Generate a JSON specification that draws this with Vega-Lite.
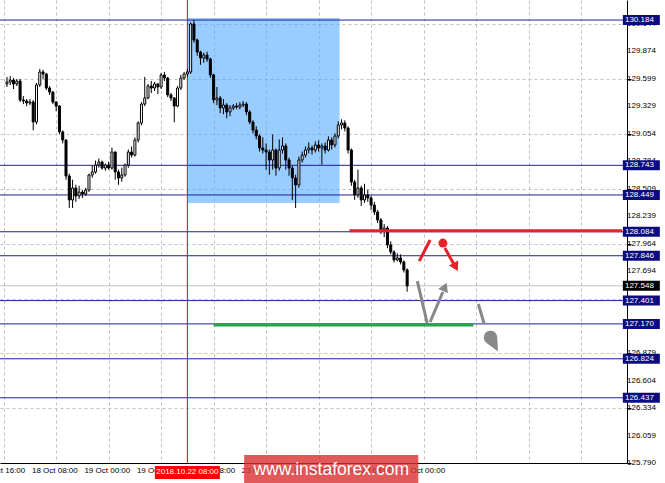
{
"$schema": "https://vega.github.io/schema/vega-lite/v6.json",
"width": 627, "height": 463, "autosize": "none", "padding": {"left": 0, "top": 0, "right": 38, "bottom": 20},
"background": "white",
"config": {"view": {"stroke": null}, "font": "Liberation Sans", "axis": {"labelOverlap": false, "title": null}},
"datasets": {
"zones": [{"t1": 56.2, "t2": 102.4, "p1": 130.204, "p2": 128.369}],
"yticks": [{"v":125.790,"lab":"125.790"},{"v":126.059,"lab":"126.059"},{"v":126.334,"lab":"126.334"},{"v":126.604,"lab":"126.604"},{"v":126.879,"lab":"126.879"},{"v":127.149,"lab":"127.149"},{"v":127.419,"lab":"127.419"},{"v":127.694,"lab":"127.694"},{"v":127.964,"lab":"127.964"},{"v":128.239,"lab":"128.239"},{"v":128.509,"lab":"128.509"},{"v":128.784,"lab":"128.784"},{"v":129.054,"lab":"129.054"},{"v":129.329,"lab":"129.329"},{"v":129.599,"lab":"129.599"},{"v":129.874,"lab":"129.874"},{"v":130.144,"lab":"130.144"}],
"xticks": [{"t":-8,"lab":"17 Oct 16:00"},{"t":8,"lab":"18 Oct 08:00"},{"t":24,"lab":"19 Oct 00:00"},{"t":40,"lab":"19 Oct 16:00"},{"t":56,"lab":"22 Oct 08:00"},{"t":72,"lab":"23 Oct 00:00"},{"t":88,"lab":"23 Oct 16:00"},{"t":104,"lab":"24 Oct 08:00"},{"t":120,"lab":"25 Oct 00:00"}],
"levels": [{"v":130.184,"lab":"130.184"},{"v":128.743,"lab":"128.743"},{"v":128.449,"lab":"128.449"},{"v":128.084,"lab":"128.084"},{"v":127.846,"lab":"127.846"},{"v":127.401,"lab":"127.401"},{"v":127.170,"lab":"127.170"},{"v":126.824,"lab":"126.824"},{"v":126.437,"lab":"126.437"}],
"price": [{"v":127.548,"lab":"127.548"}],
"markers": [{"t":56,"lab":"2018.10.22 08:00"}],
"redline": [{"t1":105.4,"t2":188.5,"p":128.094}],
"greenline": [{"t1":64.0,"t2":143.2,"p":127.160}],
"redsegs": [{"seg":"a","t":126.7,"p":127.794},{"seg":"a","t":130.0,"p":128.002},{"seg":"b","t":134.5,"p":127.923},{"seg":"b","t":137.2,"p":127.764}],
"graysegs": [{"seg":"a","t":126.1,"p":127.595},{"seg":"a","t":129.1,"p":127.179},{"seg":"b","t":130.0,"p":127.189},{"seg":"b","t":133.9,"p":127.486},{"seg":"c","t":144.7,"p":127.367},{"seg":"c","t":146.5,"p":127.169}],
"reddot": [{"t":133.9,"p":127.972}],
"redhead": [{"t":137.8,"p":127.734}],
"grayhead": [{"t":134.5,"p":127.536}],
"graydrop": [{"t":149.1,"p":126.993}],
"watermark": [{"lab":"www.instaforex.com"}],
"candles": [
{"t":1,"o":129.550,"hi":129.620,"lo":129.520,"c":129.569},
{"t":2,"o":129.569,"hi":129.630,"lo":129.540,"c":129.589},
{"t":3,"o":129.589,"hi":129.610,"lo":129.500,"c":129.550},
{"t":4,"o":129.550,"hi":129.600,"lo":129.530,"c":129.579},
{"t":5,"o":129.579,"hi":129.600,"lo":129.370,"c":129.391},
{"t":6,"o":129.391,"hi":129.430,"lo":129.350,"c":129.381},
{"t":7,"o":129.381,"hi":129.400,"lo":129.330,"c":129.361},
{"t":8,"o":129.361,"hi":129.400,"lo":129.340,"c":129.371},
{"t":9,"o":129.371,"hi":129.390,"lo":129.090,"c":129.173},
{"t":10,"o":129.173,"hi":129.560,"lo":129.150,"c":129.540},
{"t":11,"o":129.540,"hi":129.700,"lo":129.520,"c":129.669},
{"t":12,"o":129.669,"hi":129.690,"lo":129.600,"c":129.649},
{"t":13,"o":129.649,"hi":129.660,"lo":129.490,"c":129.510},
{"t":14,"o":129.510,"hi":129.530,"lo":129.440,"c":129.470},
{"t":15,"o":129.470,"hi":129.480,"lo":129.350,"c":129.371},
{"t":16,"o":129.371,"hi":129.380,"lo":129.280,"c":129.331},
{"t":17,"o":129.331,"hi":129.340,"lo":129.050,"c":129.074},
{"t":18,"o":129.074,"hi":129.090,"lo":128.960,"c":128.994},
{"t":19,"o":128.994,"hi":129.000,"lo":128.600,"c":128.637},
{"t":20,"o":128.637,"hi":128.660,"lo":128.320,"c":128.399},
{"t":21,"o":128.399,"hi":128.600,"lo":128.320,"c":128.518},
{"t":22,"o":128.518,"hi":128.550,"lo":128.380,"c":128.439},
{"t":23,"o":128.439,"hi":128.540,"lo":128.410,"c":128.478},
{"t":24,"o":128.478,"hi":128.500,"lo":128.420,"c":128.458},
{"t":25,"o":128.458,"hi":128.520,"lo":128.440,"c":128.498},
{"t":26,"o":128.498,"hi":128.660,"lo":128.480,"c":128.647},
{"t":27,"o":128.647,"hi":128.740,"lo":128.620,"c":128.677},
{"t":28,"o":128.677,"hi":128.790,"lo":128.660,"c":128.746},
{"t":29,"o":128.746,"hi":128.810,"lo":128.720,"c":128.776},
{"t":30,"o":128.776,"hi":128.790,"lo":128.700,"c":128.716},
{"t":31,"o":128.716,"hi":128.760,"lo":128.690,"c":128.746},
{"t":32,"o":128.746,"hi":128.780,"lo":128.700,"c":128.716},
{"t":33,"o":128.716,"hi":128.920,"lo":128.700,"c":128.875},
{"t":34,"o":128.875,"hi":128.880,"lo":128.600,"c":128.677},
{"t":35,"o":128.677,"hi":128.700,"lo":128.550,"c":128.617},
{"t":36,"o":128.617,"hi":128.720,"lo":128.580,"c":128.647},
{"t":37,"o":128.647,"hi":128.760,"lo":128.630,"c":128.746},
{"t":38,"o":128.746,"hi":128.900,"lo":128.720,"c":128.875},
{"t":39,"o":128.875,"hi":128.930,"lo":128.820,"c":128.845},
{"t":40,"o":128.845,"hi":129.020,"lo":128.830,"c":128.994},
{"t":41,"o":128.994,"hi":129.180,"lo":128.970,"c":129.163},
{"t":42,"o":129.163,"hi":129.370,"lo":129.140,"c":129.351},
{"t":43,"o":129.351,"hi":129.620,"lo":129.330,"c":129.411},
{"t":44,"o":129.411,"hi":129.550,"lo":129.400,"c":129.530},
{"t":45,"o":129.530,"hi":129.580,"lo":129.460,"c":129.510},
{"t":46,"o":129.510,"hi":129.570,"lo":129.480,"c":129.550},
{"t":47,"o":129.550,"hi":129.560,"lo":129.450,"c":129.520},
{"t":48,"o":129.520,"hi":129.660,"lo":129.500,"c":129.639},
{"t":49,"o":129.639,"hi":129.670,"lo":129.580,"c":129.609},
{"t":50,"o":129.609,"hi":129.620,"lo":129.420,"c":129.441},
{"t":51,"o":129.441,"hi":129.460,"lo":129.380,"c":129.411},
{"t":52,"o":129.411,"hi":129.420,"lo":129.170,"c":129.331},
{"t":53,"o":129.331,"hi":129.530,"lo":129.320,"c":129.510},
{"t":54,"o":129.510,"hi":129.640,"lo":129.490,"c":129.609},
{"t":55,"o":129.609,"hi":129.670,"lo":129.590,"c":129.649},
{"t":56,"o":129.649,"hi":129.700,"lo":129.620,"c":129.669},
{"t":57,"o":129.669,"hi":130.160,"lo":129.650,"c":130.145},
{"t":58,"o":130.145,"hi":130.184,"lo":129.960,"c":129.986},
{"t":59,"o":129.986,"hi":130.000,"lo":129.830,"c":129.867},
{"t":60,"o":129.867,"hi":129.880,"lo":129.740,"c":129.808},
{"t":61,"o":129.808,"hi":129.860,"lo":129.760,"c":129.837},
{"t":62,"o":129.837,"hi":129.870,"lo":129.770,"c":129.798},
{"t":63,"o":129.798,"hi":129.810,"lo":129.610,"c":129.639},
{"t":64,"o":129.639,"hi":129.650,"lo":129.360,"c":129.391},
{"t":65,"o":129.391,"hi":129.520,"lo":129.340,"c":129.411},
{"t":66,"o":129.411,"hi":129.430,"lo":129.260,"c":129.312},
{"t":67,"o":129.312,"hi":129.400,"lo":129.250,"c":129.341},
{"t":68,"o":129.341,"hi":129.360,"lo":129.210,"c":129.272},
{"t":69,"o":129.272,"hi":129.340,"lo":129.230,"c":129.312},
{"t":70,"o":129.312,"hi":129.350,"lo":129.290,"c":129.331},
{"t":71,"o":129.331,"hi":129.360,"lo":129.300,"c":129.321},
{"t":72,"o":129.321,"hi":129.370,"lo":129.300,"c":129.341},
{"t":73,"o":129.341,"hi":129.380,"lo":129.320,"c":129.351},
{"t":74,"o":129.351,"hi":129.370,"lo":129.240,"c":129.272},
{"t":75,"o":129.272,"hi":129.290,"lo":129.150,"c":129.173},
{"t":76,"o":129.173,"hi":129.190,"lo":129.060,"c":129.093},
{"t":77,"o":129.093,"hi":129.130,"lo":129.000,"c":129.034},
{"t":78,"o":129.034,"hi":129.050,"lo":128.880,"c":128.915},
{"t":79,"o":128.915,"hi":129.020,"lo":128.860,"c":128.895},
{"t":80,"o":128.895,"hi":128.960,"lo":128.700,"c":128.875},
{"t":81,"o":128.875,"hi":128.900,"lo":128.650,"c":128.796},
{"t":82,"o":128.796,"hi":129.050,"lo":128.700,"c":128.895},
{"t":83,"o":128.895,"hi":128.910,"lo":128.640,"c":128.716},
{"t":84,"o":128.716,"hi":129.000,"lo":128.690,"c":128.895},
{"t":85,"o":128.895,"hi":129.020,"lo":128.860,"c":128.935},
{"t":86,"o":128.935,"hi":128.960,"lo":128.700,"c":128.796},
{"t":87,"o":128.796,"hi":128.820,"lo":128.640,"c":128.716},
{"t":88,"o":128.716,"hi":128.740,"lo":128.400,"c":128.617},
{"t":89,"o":128.617,"hi":128.650,"lo":128.320,"c":128.548},
{"t":90,"o":128.548,"hi":128.830,"lo":128.520,"c":128.796},
{"t":91,"o":128.796,"hi":128.880,"lo":128.770,"c":128.845},
{"t":92,"o":128.845,"hi":128.930,"lo":128.820,"c":128.895},
{"t":93,"o":128.895,"hi":128.970,"lo":128.860,"c":128.915},
{"t":94,"o":128.915,"hi":128.940,"lo":128.850,"c":128.895},
{"t":95,"o":128.895,"hi":128.980,"lo":128.870,"c":128.945},
{"t":96,"o":128.945,"hi":128.990,"lo":128.880,"c":128.915},
{"t":97,"o":128.915,"hi":128.960,"lo":128.750,"c":128.935},
{"t":98,"o":128.935,"hi":128.970,"lo":128.860,"c":128.895},
{"t":99,"o":128.895,"hi":129.030,"lo":128.880,"c":128.994},
{"t":100,"o":128.994,"hi":129.020,"lo":128.900,"c":128.945},
{"t":101,"o":128.945,"hi":129.060,"lo":128.920,"c":129.034},
{"t":102,"o":129.034,"hi":129.180,"lo":129.010,"c":129.143},
{"t":103,"o":129.143,"hi":129.200,"lo":129.100,"c":129.163},
{"t":104,"o":129.163,"hi":129.190,"lo":129.080,"c":129.113},
{"t":105,"o":129.113,"hi":129.130,"lo":128.860,"c":128.895},
{"t":106,"o":128.895,"hi":128.910,"lo":128.540,"c":128.577},
{"t":107,"o":128.577,"hi":128.600,"lo":128.400,"c":128.449},
{"t":108,"o":128.449,"hi":128.700,"lo":128.420,"c":128.518},
{"t":109,"o":128.518,"hi":128.540,"lo":128.340,"c":128.399},
{"t":110,"o":128.399,"hi":128.560,"lo":128.370,"c":128.449},
{"t":111,"o":128.449,"hi":128.500,"lo":128.380,"c":128.419},
{"t":112,"o":128.419,"hi":128.440,"lo":128.300,"c":128.349},
{"t":113,"o":128.349,"hi":128.380,"lo":128.250,"c":128.280},
{"t":114,"o":128.280,"hi":128.300,"lo":128.170,"c":128.201},
{"t":115,"o":128.201,"hi":128.220,"lo":128.060,"c":128.101},
{"t":116,"o":128.101,"hi":128.160,"lo":128.030,"c":128.121},
{"t":117,"o":128.121,"hi":128.140,"lo":127.920,"c":127.953},
{"t":118,"o":127.953,"hi":127.990,"lo":127.860,"c":127.883},
{"t":119,"o":127.883,"hi":127.900,"lo":127.780,"c":127.804},
{"t":120,"o":127.804,"hi":127.870,"lo":127.790,"c":127.824},
{"t":121,"o":127.824,"hi":127.860,"lo":127.760,"c":127.784},
{"t":122,"o":127.784,"hi":127.800,"lo":127.680,"c":127.705},
{"t":123,"o":127.705,"hi":127.720,"lo":127.490,"c":127.546}
]
},
"layer": [
{"data": {"name": "zones"},
 "mark": {"type": "rect", "fill": "#55aaff", "opacity": 0.6},
 "encoding": {
  "x": {"field": "t1", "type": "quantitative", "title": null,
        "scale": {"domain": [0.4, 188.5], "nice": false, "zero": false},
        "axis": {"orient": "bottom", "title": null, "labels": false,
                 "values": [0,8,16,24,32,40,48,56,64,72,80,88,96,104,112,120,128,136,144,152,160,168,176,184],
                 "grid": true, "gridColor": "#c0c0c0", "gridDash": [3,3], "gridWidth": 1,
                 "domainColor": "#000000", "tickColor": "#000000", "tickSize": 3,
                 "tickOpacity": {"condition": {"test": "datum.value % 16 == 8", "value": 1}, "value": 0}}},
  "x2": {"field": "t2"},
  "y": {"field": "p1", "type": "quantitative", "title": null,
        "scale": {"domain": [125.79, 130.383], "nice": false, "zero": false},
        "axis": {"orient": "right", "title": null, "labels": false,
                 "values": [125.790,126.059,126.334,126.604,126.879,127.149,127.419,127.694,127.964,128.239,128.509,128.784,129.054,129.329,129.599,129.874,130.144],
                 "grid": true, "gridColor": "#c0c0c0", "gridDash": [3,3], "gridWidth": 1,
                 "domainColor": "#000000", "tickColor": "#000000", "tickSize": 4}},
  "y2": {"field": "p2"}
 }},
{"data": {"name": "yticks"}, "mark": {"type": "text", "align": "left", "baseline": "middle", "dx": 5, "color": "#000000", "font": "Liberation Sans", "fontSize": 8},
 "encoding": {"x": {"datum": 188.5}, "y": {"field": "v", "type": "quantitative", "title": null}, "text": {"field": "lab"}}},
{"data": {"name": "xticks"}, "mark": {"type": "text", "align": "left", "baseline": "top", "dx": 2, "color": "#000000", "font": "Liberation Sans", "fontSize": 8},
 "encoding": {"x": {"field": "t", "type": "quantitative", "title": null}, "y": {"datum": 125.755}, "text": {"field": "lab"}}},
{"data": {"name": "levels"}, "mark": {"type": "rule", "color": "#1f1f99", "strokeWidth": 1},
 "encoding": {"y": {"field": "v", "type": "quantitative", "title": null}}},
{"data": {"name": "price"}, "mark": {"type": "rule", "color": "#c0c0c0", "strokeWidth": 1},
 "encoding": {"y": {"field": "v", "type": "quantitative", "title": null}}},
{"data": {"name": "markers"}, "mark": {"type": "rule", "color": "#ff0000", "strokeWidth": 1},
 "encoding": {"x": {"field": "t", "type": "quantitative", "title": null}}},
{"data": {"name": "candles"}, "mark": {"type": "rule", "color": "#000000", "strokeWidth": 1},
 "encoding": {"x": {"field": "t", "type": "quantitative", "title": null},
              "y": {"field": "lo", "type": "quantitative", "title": null}, "y2": {"field": "hi"}}},
{"data": {"name": "candles"}, "mark": {"type": "bar", "size": 2, "stroke": "#000000", "strokeWidth": 1},
 "encoding": {"x": {"field": "t", "type": "quantitative", "title": null},
              "y": {"field": "o", "type": "quantitative", "title": null}, "y2": {"field": "c"},
              "fill": {"condition": {"test": "datum.c >= datum.o", "value": "#ffffff"}, "value": "#000000"}}},
{"data": {"name": "redline"}, "mark": {"type": "rule", "color": "#e8202a", "strokeWidth": 3},
 "encoding": {"x": {"field": "t1", "type": "quantitative", "title": null}, "x2": {"field": "t2"},
              "y": {"field": "p", "type": "quantitative", "title": null}}},
{"data": {"name": "greenline"}, "mark": {"type": "rule", "color": "#22a845", "strokeWidth": 3},
 "encoding": {"x": {"field": "t1", "type": "quantitative", "title": null}, "x2": {"field": "t2"},
              "y": {"field": "p", "type": "quantitative", "title": null}}},
{"data": {"name": "redsegs"}, "mark": {"type": "line", "color": "#e8202a", "strokeWidth": 3},
 "encoding": {"x": {"field": "t", "type": "quantitative", "title": null},
              "y": {"field": "p", "type": "quantitative", "title": null}, "detail": {"field": "seg"}}},
{"data": {"name": "graysegs"}, "mark": {"type": "line", "color": "#888888", "strokeWidth": 3},
 "encoding": {"x": {"field": "t", "type": "quantitative", "title": null},
              "y": {"field": "p", "type": "quantitative", "title": null}, "detail": {"field": "seg"}}},
{"data": {"name": "reddot"}, "mark": {"type": "point", "shape": "circle", "filled": true, "color": "#e8202a", "size": 80, "opacity": 1},
 "encoding": {"x": {"field": "t", "type": "quantitative", "title": null}, "y": {"field": "p", "type": "quantitative", "title": null}}},
{"data": {"name": "redhead"}, "mark": {"type": "point", "shape": "triangle-up", "filled": true, "color": "#e8202a", "size": 110, "angle": 152, "opacity": 1},
 "encoding": {"x": {"field": "t", "type": "quantitative", "title": null}, "y": {"field": "p", "type": "quantitative", "title": null}}},
{"data": {"name": "grayhead"}, "mark": {"type": "point", "shape": "triangle-up", "filled": true, "color": "#888888", "size": 110, "angle": 23, "opacity": 1},
 "encoding": {"x": {"field": "t", "type": "quantitative", "title": null}, "y": {"field": "p", "type": "quantitative", "title": null}}},
{"data": {"name": "graydrop"}, "mark": {"type": "point", "shape": "M0,1L-0.55,-0.2A0.6,0.6 0 1,1 0.55,-0.2Z", "filled": true, "color": "#888888", "size": 500, "angle": 332, "opacity": 1},
 "encoding": {"x": {"field": "t", "type": "quantitative", "title": null}, "y": {"field": "p", "type": "quantitative", "title": null}}},
{"data": {"name": "levels"}, "mark": {"type": "point", "shape": "M-1,-0.27L1,-0.27L1,0.27L-1,0.27Z", "filled": true, "color": "#0c0c80", "size": 1369, "opacity": 1},
 "encoding": {"x": {"datum": 194.4}, "y": {"field": "v", "type": "quantitative", "title": null}}},
{"data": {"name": "price"}, "mark": {"type": "point", "shape": "M-1,-0.27L1,-0.27L1,0.27L-1,0.27Z", "filled": true, "color": "#000000", "size": 1369, "opacity": 1},
 "encoding": {"x": {"datum": 194.4}, "y": {"field": "v", "type": "quantitative", "title": null}}},
{"data": {"name": "levels"}, "mark": {"type": "text", "align": "left", "baseline": "middle", "color": "#ffffff", "font": "Liberation Sans", "fontSize": 8},
 "encoding": {"x": {"datum": 189.4}, "y": {"field": "v", "type": "quantitative", "title": null}, "text": {"field": "lab"}}},
{"data": {"name": "price"}, "mark": {"type": "text", "align": "left", "baseline": "middle", "color": "#ffffff", "font": "Liberation Sans", "fontSize": 8},
 "encoding": {"x": {"datum": 189.4}, "y": {"field": "v", "type": "quantitative", "title": null}, "text": {"field": "lab"}}},
{"data": {"name": "markers"}, "mark": {"type": "point", "shape": "M-1,-0.2L1,-0.2L1,0.2L-1,0.2Z", "filled": true, "color": "#ff0000", "size": 4225, "opacity": 1},
 "encoding": {"x": {"field": "t", "type": "quantitative", "title": null}, "y": {"datum": 125.696}}},
{"data": {"name": "markers"}, "mark": {"type": "text", "align": "center", "baseline": "middle", "color": "#ffffff", "font": "Liberation Sans", "fontSize": 8},
 "encoding": {"x": {"field": "t", "type": "quantitative", "title": null}, "y": {"datum": 125.696}, "text": {"field": "lab"}}},
{"data": {"name": "watermark"}, "mark": {"type": "rect", "fill": "#d93030", "opacity": 0.8},
 "encoding": {"x": {"datum": 73.3}, "x2": {"datum": 126.4}, "y": {"datum": 125.869}, "y2": {"datum": 125.591}}},
{"data": {"name": "watermark"}, "mark": {"type": "text", "align": "center", "baseline": "middle", "color": "#ffffff", "font": "Liberation Sans", "fontSize": 17.5},
 "encoding": {"x": {"datum": 99.85}, "y": {"datum": 125.725}, "text": {"field": "lab"}}}
]
}
